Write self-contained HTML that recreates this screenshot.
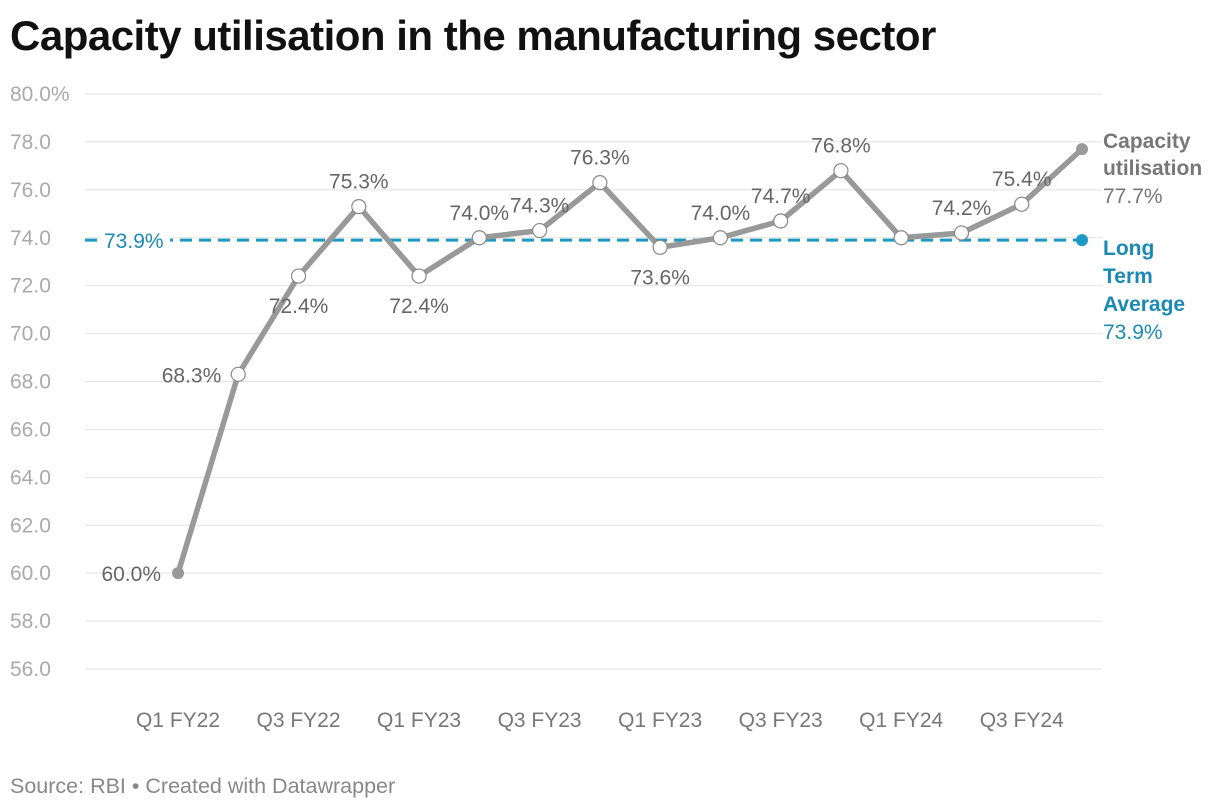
<!DOCTYPE html>
<html><head><meta charset="utf-8"><style>
body{margin:0;background:#fff;font-family:"Liberation Sans",Arial,sans-serif;}
#wrap{position:relative;width:1220px;height:810px;overflow:hidden;}
h1{position:absolute;left:10px;top:12px;margin:0;font-size:42px;font-weight:bold;color:#111;letter-spacing:-0.5px;}
#src{position:absolute;left:10px;top:774px;font-size:21.5px;color:#888;}
</style></head><body>
<div id="wrap">
<h1>Capacity utilisation in the manufacturing sector</h1>
<svg id="chart" width="1220" height="810" style="position:absolute;left:0;top:0"></svg>
<div id="src">Source: RBI • Created with Datawrapper</div>
</div>
<script>
const categories=["Q1 FY22","Q2 FY22","Q3 FY22","Q4 FY22","Q1 FY23","Q2 FY23","Q3 FY23","Q4 FY23","Q1 FY23","Q2 FY23","Q3 FY23","Q4 FY23","Q1 FY24","Q2 FY24","Q3 FY24","Q4 FY24"];
const values=[60.0,68.3,72.4,75.3,72.4,74.0,74.3,76.3,73.6,74.0,74.7,76.8,74.0,74.2,75.4,77.7];
const labelPos=["left","left","below","above","below","above","above","above","below","above","above","above","none","above","above","none"];
const yTicks=[56,58,60,62,64,66,68,70,72,74,76,78,80];
const xTickLabels=["Q1 FY22","Q3 FY22","Q1 FY23","Q3 FY23","Q1 FY23","Q3 FY23","Q1 FY24","Q3 FY24"];
const xTickIdx=[0,2,4,6,8,10,12,14];
const average=73.9;

const NS="http://www.w3.org/2000/svg";
const svg=document.getElementById('chart');
const x=i=>178+i*(1082-178)/(categories.length-1);
const y=v=>94+(80-v)*(669-94)/24;
const FS=21;
function el(t,a,txt){const e=document.createElementNS(NS,t);for(const k in a)e.setAttribute(k,a[k]);if(txt!==undefined)e.textContent=txt;svg.appendChild(e);return e;}
yTicks.forEach(t=>{
 const g=el('line',{x1:85,x2:1102,y1:y(t),y2:y(t),stroke:'#e2e2e2','stroke-width':1});
 
 
 const l=el('text',{x:10,y:y(t)+7,'font-size':FS,fill:'#aaa'},t===80?'80.0%':t.toFixed(1));
 
 
});
xTickIdx.forEach((idx,k)=>{
 const l=el('text',{x:x(idx),y:727,'font-size':FS,fill:'#777','text-anchor':'middle'},xTickLabels[k]);
 
 
});
const avg=el('line',{x1:85,x2:1082,y1:y(average),y2:y(average),stroke:'#1c9ac6','stroke-width':3,'stroke-dasharray':'12,7'});


const bg=el('rect',{x:100,y:y(average)-12,width:70,height:24,fill:'#fff'});


const al=el('text',{x:104,y:y(average)+8,'font-size':FS,fill:'#1a8ab5'},average.toFixed(1)+'%');


const ad=el('circle',{cx:1082,cy:y(average),r:6,fill:'#1c9ac6'});


const line=el('polyline',{points:values.map((v,i)=>x(i)+','+y(v)).join(' '),fill:'none',stroke:'#999','stroke-width':5.5,'stroke-linejoin':'round'});


values.forEach((v,i)=>{
 const end=(i===0||i===values.length-1);
 const c=el('circle',{cx:x(i),cy:y(v),r:end?6:7,fill:end?'#999':'#fff',stroke:end?'none':'#888','stroke-width':1.2});
 
 
 const p=labelPos[i];
 if(p==='none')return;
 let lx=x(i),ly=y(v),anchor='middle';
 if(p==='left'){lx-=17;ly+=8;anchor='end';}
 else if(p==='above'){ly-=18;}
 else {ly+=37;}
 const t=el('text',{x:lx,y:ly,'font-size':FS,fill:'#666','text-anchor':anchor},v.toFixed(1)+'%');
 
 
});
const sl=[['Capacity',148,'#777','bold'],['utilisation',175,'#777','bold'],[values[values.length-1].toFixed(1)+'%',203,'#777','normal']];
sl.forEach(s=>{const t=el('text',{x:1103,y:s[1],'font-size':FS,fill:s[2],'font-weight':s[3]},s[0]);
 
 });
const al2=[['Long',255,'bold'],['Term',283,'bold'],['Average',311,'bold'],[average.toFixed(1)+'%',339,'normal']];
al2.forEach(s=>{const t=el('text',{x:1103,y:s[1],'font-size':FS,fill:'#1a8ab5','font-weight':s[2]},s[0]);
 
 });
</script>
</body></html>
